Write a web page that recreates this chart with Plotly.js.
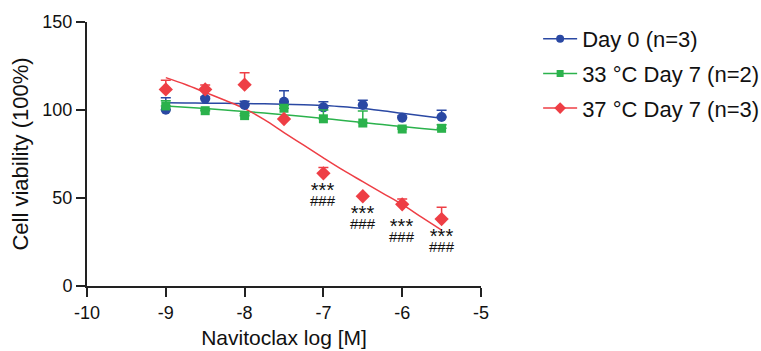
<!DOCTYPE html>
<html>
<head>
<meta charset="utf-8">
<script src="https://cdn.plot.ly/plotly-3.0.1.min.js"></script>
<style>html,body{margin:0;padding:0;background:#fff;}#chart{width:761px;height:351px;}</style>
</head>
<body>
<div id="chart"></div>
<script>
// Concentrations (log M)
const logConc = [-9, -8.5, -8, -7.5, -7, -6.5, -6, -5.5];

// Day 0 (n=3)
const day0Mean = [100.2, 106.4, 102.8, 104.7, 101.5, 102.8, 95.6, 96.0];
const day0Err  = [6.8, 1.0, 2.2, 6.3, 3.2, 2.7, 1.0, 3.8];

// 33 °C Day 7 (n=2)
const d33Mean = [102.3, 99.6, 96.8, 101.0, 95.0, 92.6, 89.2, 89.6];
const d33Err  = [3.0, 1.0, 1.0, 1.5, 5.0, 6.8, 1.0, 2.0];

// 37 °C Day 7 (n=3)
const d37Mean = [111.7, 111.7, 114.4, 94.9, 64.0, 51.0, 46.4, 38.0];
const d37Err  = [5.2, 2.5, 6.8, 0.5, 3.4, 0.3, 3.0, 6.7];

// Fitted curves
const fitX    = [-9, -8.75, -8.5, -8.25, -8, -7.75, -7.5, -7.25, -7, -6.75, -6.5, -6.25, -6, -5.75, -5.5];
const fitDay0 = [104.1, 104.0, 103.9, 103.8, 103.7, 103.5, 103.3, 103.0, 102.5, 101.8, 100.8, 99.6, 98.1, 96.7, 95.3];
const fit33   = [102.3, 101.6, 100.8, 100.0, 99.2, 98.3, 97.3, 96.3, 95.2, 94.1, 92.9, 91.7, 90.6, 89.5, 88.5];
const fit37   = [118.4, 114.5, 110.0, 105.5, 100.8, 94.5, 87.2, 80.0, 72.8, 65.8, 59.3, 52.8, 46.4, 39.0, 31.8];

// Significance labels
const sigX = [-7, -6.5, -6, -5.5];
const sigY = [52, 39.3, 32, 26];
const sigTop = "***";
const sigBottom = "###";

const names = ["Day 0 (n=3)", "33 \u00B0C Day 7 (n=2)", "37 \u00B0C Day 7 (n=3)"];
const colors = ["#2A48A3", "#2BB24C", "#EE3E45"];
const symbols = ["circle", "square", "diamond"];
const sizes = [10, 9, 11];

const means = [day0Mean, d33Mean, d37Mean];
const errs = [day0Err, d33Err, d37Err];
const fits = [fitDay0, fit33, fit37];

const FONT = "Liberation Sans, Arial, sans-serif";
const traces = [];
for (let i = 0; i < 3; i++) {
  traces.push({
    x: fitX, y: fits[i], type: "scatter", mode: "lines",
    line: {color: colors[i], width: 1.5, shape: "spline"},
    showlegend: false, hoverinfo: "skip"
  });
}
for (let i = 0; i < 3; i++) {
  traces.push({
    x: logConc, y: means[i], type: "scatter", mode: "markers", showlegend: false,
    marker: {color: colors[i], symbol: symbols[i], size: sizes[i], line: {width: 0}},
    error_y: {type: "data", symmetric: false, array: errs[i], arrayminus: errs[i].map(() => 0),
              color: colors[i], thickness: 1.5, width: 5}
  });
}
// legend entries (line + marker)
for (let i = 0; i < 3; i++) {
  traces.push({
    x: [null], y: [null], type: "scatter", mode: "lines+markers", name: names[i],
    legendgroup: "g" + i,
    line: {color: colors[i], width: 1.5},
    marker: {color: colors[i], symbol: symbols[i], size: sizes[i] - 2, line: {width: 0}}
  });
}

const annotations = [];
for (let k = 0; k < sigX.length; k++) {
  annotations.push({x: sigX[k], y: sigY[k],
    text: "<span style='font-size:20px'>" + sigTop + "</span><br><span style='font-size:15px'>" + sigBottom + "</span>",
    showarrow: false, font: {family: FONT, size: 7, color: "#111"}, xanchor: "center", yanchor: "middle"});
}

const layout = {
  width: 761, height: 351,
  margin: {l: 87, r: 280, t: 22, b: 65, autoexpand: false},
  paper_bgcolor: "#fff", plot_bgcolor: "#fff",
  font: {family: FONT, color: "#111"},
  showlegend: true,
  legend: {x: 1.145, y: 1.015, xanchor: "left", yanchor: "top", traceorder: "grouped",
           font: {family: FONT, size: 22, color: "#111"}, tracegroupgap: 3,
           itemwidth: 34, bgcolor: "rgba(0,0,0,0)"},
  xaxis: {
    range: [-10, -5], tickvals: [-10, -9, -8, -7, -6, -5], ticktext: ["-10", "-9", "-8", "-7", "-6", "-5"],
    showline: true, linecolor: "#222", linewidth: 2, ticks: "outside", ticklen: 9, tickwidth: 2, tickcolor: "#222",
    showgrid: false, zeroline: false, tickfont: {family: FONT, size: 18, color: "#111"},
    title: {text: "Navitoclax log [M]", font: {family: FONT, size: 21, color: "#111"}, standoff: 9}
  },
  yaxis: {
    range: [0, 150], tickvals: [0, 50, 100, 150],
    showline: true, linecolor: "#222", linewidth: 2, ticks: "outside", ticklen: 9, tickwidth: 2, tickcolor: "#222",
    showgrid: false, zeroline: false, tickfont: {family: FONT, size: 18, color: "#111"},
    title: {text: "Cell viability (100%)", font: {family: FONT, size: 22, color: "#111"}, standoff: 8}
  },
  annotations: annotations
};

Plotly.newPlot("chart", traces, layout, {displayModeBar: false, staticPlot: true});
</script>
</body>
</html>
